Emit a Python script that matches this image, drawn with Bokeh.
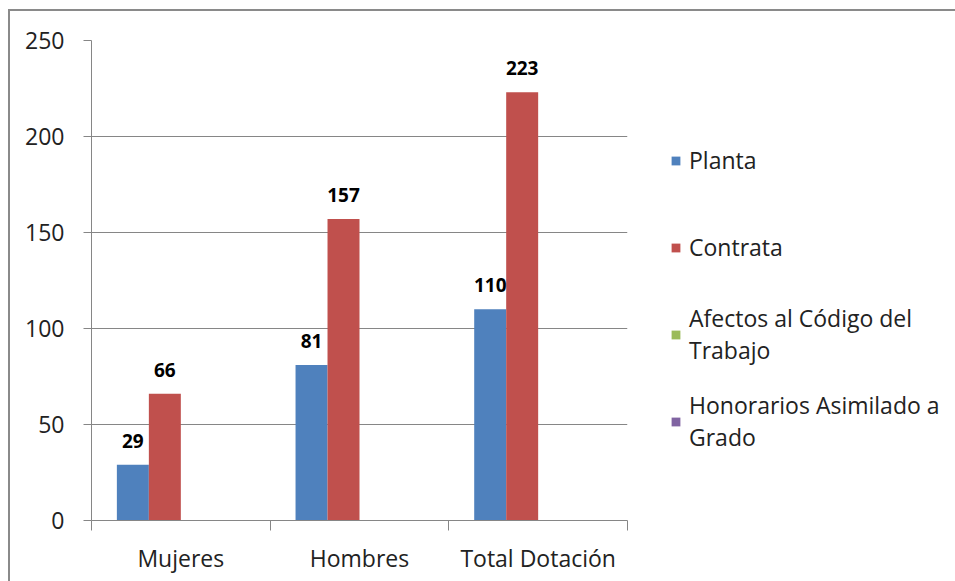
import numpy as np
from bokeh.plotting import figure
from bokeh.models import ColumnDataSource, FixedTicker, Legend, LegendItem, Range1d
from bokeh.transform import dodge
from bokeh.core.properties import value
from bokeh.embed import file_html
from bokeh.resources import INLINE

# ---- data ----
categories = ["Mujeres", "Hombres", "Total Dotación"]
series_labels = ["Planta", "Contrata", "Afectos al Código del\nTrabajo", "Honorarios Asimilado a\nGrado"]
planta = [29, 81, 110]
contrata = [66, 157, 223]
afectos = [0, 0, 0]
honorarios = [0, 0, 0]
y_ticks = [0, 50, 100, 150, 200, 250]
colors = ["#4F81BD", "#C0504D", "#9BBB59", "#8064A2"]

FONT = "Open Sans"
AXIS_COLOR = "#868686"

xs = [i + 0.5 for i in range(len(categories))]
src = ColumnDataSource(dict(
    x=xs,
    planta=planta, contrata=contrata, afectos=afectos, honorarios=honorarios,
    planta_lbl=[str(v) for v in planta],
    contrata_lbl=[str(v) for v in contrata],
))

p = figure(frame_width=536, frame_height=480, output_backend="svg", toolbar_location=None,
           x_range=Range1d(0, len(categories)), y_range=Range1d(0, 250))
p.min_border_left = 81
p.min_border_right = 328
p.min_border_top = 29
p.min_border_bottom = 61
p.outline_line_color = None
p.background_fill_color = "white"
p.border_fill_color = "white"
p.styles = {"border-left": "2px solid #8a8a8a", "border-top": "2px solid #8a8a8a",
            "margin-left": "8px", "margin-top": "9px"}

bw = 0.179
offsets = [-1.5 * bw, -0.5 * bw, 0.5 * bw, 1.5 * bw]
keys = ["planta", "contrata", "afectos", "honorarios"]
renderers = []
for k, off, c in zip(keys, offsets, colors):
    r = p.vbar(x=dodge("x", off, range=p.x_range), top=k, width=bw, bottom=0,
               source=src, fill_color=c, line_color=None)
    renderers.append(r)

for k, off in zip(["planta", "contrata"], offsets[:2]):
    p.text(x=dodge("x", off, range=p.x_range), y=k, text=k + "_lbl", source=src,
           text_align="center", text_baseline="middle", y_offset=-24,
           text_font=value(FONT), text_font_style="bold", text_font_size="19px",
           text_color="black")

# axes
p.yaxis.ticker = FixedTicker(ticks=y_ticks)
p.yaxis.axis_line_color = AXIS_COLOR
p.yaxis.major_tick_line_color = AXIS_COLOR
p.yaxis.major_tick_out = 8
p.yaxis.major_tick_in = 0
p.yaxis.minor_tick_line_color = None
p.yaxis.major_label_standoff = 19
p.yaxis.major_label_text_font = FONT
p.yaxis.major_label_text_font_size = "23px"
p.yaxis.major_label_text_color = "#222222"

p.xaxis.ticker = FixedTicker(ticks=xs, minor_ticks=list(range(len(categories) + 1)))
p.xaxis.major_label_overrides = {x: c for x, c in zip(xs, categories)}
p.xaxis.axis_line_color = AXIS_COLOR
p.xaxis.major_tick_line_color = None
p.xaxis.minor_tick_line_color = AXIS_COLOR
p.xaxis.minor_tick_out = 10
p.xaxis.minor_tick_in = 0
p.xaxis.major_label_standoff = 11
p.xaxis.major_label_text_font = FONT
p.xaxis.major_label_text_font_size = "23px"
p.xaxis.major_label_text_color = "#222222"

p.xgrid.visible = False
p.ygrid.grid_line_color = AXIS_COLOR
p.ygrid.grid_line_width = 1

legend = Legend(items=[LegendItem(label=lbl, renderers=[r]) for lbl, r in zip(series_labels, renderers)],
                location=(43, 67), padding=0, margin=0, spacing=23,
                border_line_color=None, background_fill_alpha=0,
                glyph_width=11, glyph_height=11, label_standoff=8, label_height=64,
                label_text_font=FONT, label_text_font_size="23px",
                label_text_color="#222222")
p.add_layout(legend, "right")

open("out.html", "w").write(file_html(p, INLINE))
